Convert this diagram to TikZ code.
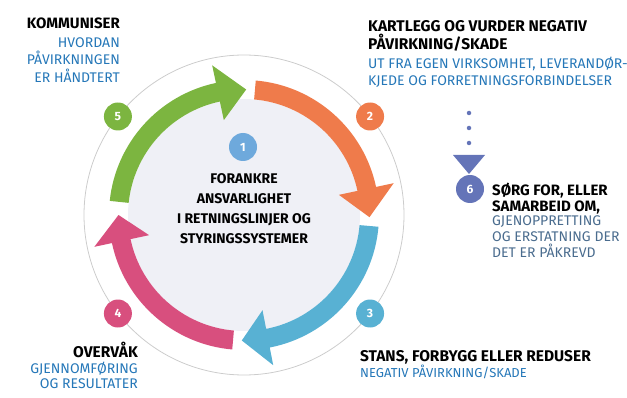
\documentclass[tikz,border=0pt]{standalone}
\usepackage{fontspec}
\setmainfont{Fira Sans}
\usepackage{xcolor}
\usepackage{tikz}
\usetikzlibrary{positioning}

\definecolor{cyclegreen}{HTML}{7CB540}
\definecolor{cycleorange}{HTML}{EF7B4B}
\definecolor{cycleblue}{HTML}{58B1D3}
\definecolor{cyclepink}{HTML}{D84F7E}
\definecolor{oneblue}{HTML}{6EA9DC}
\definecolor{sixblue}{HTML}{6474B8}
\definecolor{subblue}{HTML}{2577B8}
\definecolor{subgrey}{HTML}{4A6C8E}
\definecolor{discfill}{HTML}{EFF0F6}

% arrow segment of the cycle: colour, tail angle, head base angle, tip angle
\newcommand{\cyclearrow}[4]{%
  \fill[#1] (#2:116) arc[start angle=#2, end angle=#3, radius=116] -- (#3:97)
    -- (#4:125.5) -- (#3:153) -- (#3:135) arc[start angle=#3, end angle=#2, radius=135] -- cycle;}

\tikzset{
  headtext/.style={font=\fontsize{15.5}{#1}\selectfont\bfseries, inner sep=0pt},
  headtext/.default=18,
  subtext/.style={font=\fontsize{14}{#1}\selectfont, text=subblue, inner sep=0pt},
  subtext/.default=17,
  numdot/.style={circle, fill=#1, text=white, minimum size=28, inner sep=0pt,
    font=\fontsize{12}{12}\selectfont\bfseries},
}

\begin{document}
\begin{tikzpicture}[x=1pt,y=1pt]
  \useasboundingbox (0,0) rectangle (627,397);

  % the cycle
  \begin{scope}[shift={(244,182)}]
    \fill[discfill] (0,0) circle[radius=116];
    \draw[gray!40, line width=0.8] (0,0) circle[radius=160];

    \cyclearrow{cyclegreen}{174}{102}{89}
    \cyclearrow{cycleorange}{85}{12}{-1}
    \cyclearrow{cycleblue}{-5}{-79}{-91}
    \cyclearrow{cyclepink}{-95}{-168}{-180}

    \node[numdot=cycleorange] (n2) at (38:160) {2};
    \node[numdot=cyclegreen] (n5) at (142:160) {5};
    \node[numdot=cycleblue] (n3) at (-38:160) {3};
    \node[numdot=cyclepink] (n4) at (-142:160) {4};
    \node[numdot=oneblue] (n1) at (-1,68) {1};
  \end{scope}

  \node[headtext=20, anchor=north, align=center, font=\fontsize{14}{20}\selectfont\bfseries] (t1) at (244,224)
    {FORANKRE\\ANSVARLIGHET\\I RETNINGSLINJER OG\\STYRINGSSYSTEMER};

  % step 5
  \node[headtext, anchor=north east, font=\fontsize{15}{18}\selectfont\bfseries] (t5) at (120,379) {KOMMUNISER};
  \node[subtext=17.5, anchor=north east, align=right] (s5) at (120,360)
    {HVORDAN\\PÅVIRKNINGEN\\ER HÅNDTERT};

  % step 2
  \node[headtext, anchor=north west, align=left] (t2) at (368,377)
    {KARTLEGG OG VURDER NEGATIV\\PÅVIRKNING/SKADE};
  \node[subtext=16.5, anchor=north west, align=left] (s2) at (368,340)
    {UT FRA EGEN VIRKSOMHET, LEVERANDØR-\\KJEDE OG FORRETNINGSFORBINDELSER};

  % step 6
  \coordinate (dots) at (469,284);
  \coordinate (tri) at (469,254);
  \draw[sixblue, line width=4.5, line cap=round, dash pattern=on 0pt off 15pt] (dots) -- (tri);
  \fill[sixblue] (453,242) -- (485,242) -- (469,223) -- cycle;
  \node[numdot=sixblue] (n6) at (470,208) {6};
  \node[headtext=16, anchor=north west, align=left, font=\fontsize{15}{16}\selectfont\bfseries] (t6) at (492,214)
    {SØRG FOR, ELLER\\SAMARBEID OM,};
  \node[subtext=16, text=subgrey, anchor=north west, align=left] (s6) at (492,182)
    {GJENOPPRETTING\\OG ERSTATNING DER\\DET ER PÅKREVD};

  % step 3
  \node[headtext, anchor=north west] (t3) at (360,47) {STANS, FORBYGG ELLER REDUSER};
  \node[subtext, anchor=base west, font=\fontsize{13}{16}\selectfont] (s3) at (360,20)
    {NEGATIV PÅVIRKNING/SKADE};

  % step 4
  \node[headtext, anchor=base east] (t4) at (138,40) {OVERVÅK};
  \node[subtext=15, anchor=north east, align=right] (s4) at (138,35)
    {GJENNOMFØRING\\OG RESULTATER};
\end{tikzpicture}
\end{document}
